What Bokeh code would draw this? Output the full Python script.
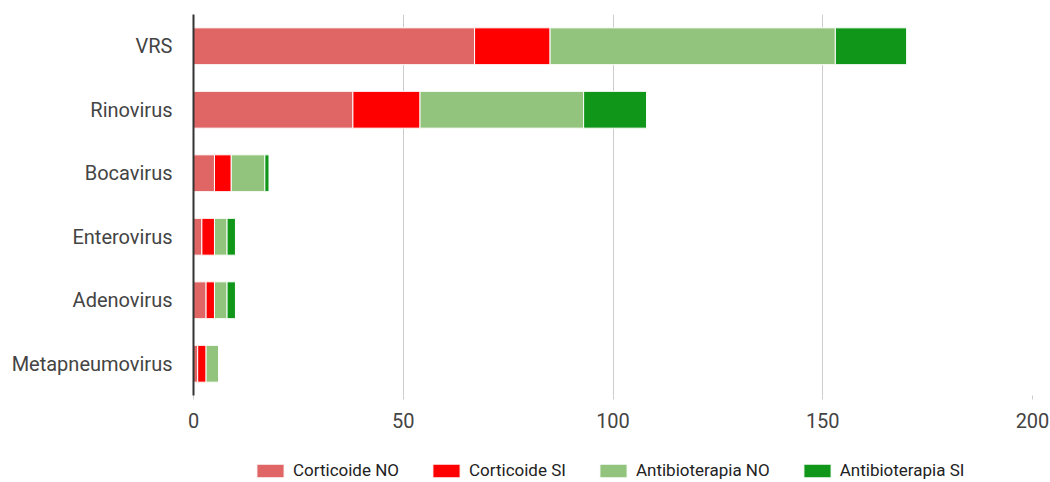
from bokeh.plotting import figure
from bokeh.layouts import column
from bokeh.models import ColumnDataSource, FactorRange, Range1d, Legend, LegendItem
from bokeh.embed import file_html
from bokeh.resources import INLINE

viruses = ["VRS", "Rinovirus", "Bocavirus", "Enterovirus", "Adenovirus", "Metapneumovirus"]
corticoide_no = [67, 38, 5, 2, 3, 1]
corticoide_si = [18, 16, 4, 3, 2, 2]
antibio_no = [68, 39, 8, 3, 3, 3]
antibio_si = [17, 15, 1, 2, 2, 0]

series_keys = ["corticoide_no", "corticoide_si", "antibio_no", "antibio_si"]
series_labels = ["Corticoide NO", "Corticoide SI", "Antibioterapia NO", "Antibioterapia SI"]
series_colors = ["#e06666", "#ff0000", "#93c47d", "#109618"]
x_ticks = [0, 50, 100, 150, 200]

source = ColumnDataSource(data=dict(
    virus=viruses,
    corticoide_no=corticoide_no,
    corticoide_si=corticoide_si,
    antibio_no=antibio_no,
    antibio_si=antibio_si,
))

FONT = "Roboto"

p = figure(
    width=1050, height=444,
    y_range=FactorRange(factors=list(reversed(viruses))),
    x_range=Range1d(0, 200),
    output_backend="svg", toolbar_location=None,
    min_border_left=193, min_border_right=18, min_border_top=14, min_border_bottom=49,
)
p.outline_line_color = None

p.hbar_stack(series_keys, y="virus", height=0.58, color=series_colors,
             line_color="white", line_width=1, source=source)

p.xaxis.ticker = x_ticks
p.xaxis.axis_line_color = None
p.xaxis.major_tick_line_color = "#cccccc"
p.xaxis.major_tick_out = 4
p.xaxis.major_tick_in = 0
p.xaxis.minor_tick_line_color = None
p.xaxis.major_label_standoff = 13
p.xaxis.major_label_text_font = FONT
p.xaxis.major_label_text_font_size = "20px"
p.xaxis.major_label_text_color = "#444444"

p.yaxis.axis_line_color = "#333333"
p.yaxis.axis_line_width = 2
p.yaxis.major_tick_line_color = None
p.yaxis.minor_tick_line_color = None
p.yaxis.major_label_standoff = 15
p.yaxis.major_label_text_font = FONT
p.yaxis.major_label_text_font_size = "20px"
p.yaxis.major_label_text_color = "#444444"

p.xgrid.grid_line_color = "#cccccc"
p.ygrid.grid_line_color = None

# Legend strip below the chart (proxy glyphs sit outside the visible range)
lg = figure(
    width=1050, height=38, x_range=Range1d(0, 1), y_range=Range1d(0, 1),
    output_backend="svg", toolbar_location=None,
    min_border_left=0, min_border_right=0, min_border_top=0, min_border_bottom=0,
)
lg.axis.visible = False
lg.grid.grid_line_color = None
lg.outline_line_color = None
proxies = [lg.hbar(y=[-5], right=[-5], height=1, color=c, line_color="white", line_width=1)
           for c in series_colors]
legend = Legend(
    items=[LegendItem(label=l, renderers=[r]) for l, r in zip(series_labels, proxies)],
    orientation="horizontal", location=(60, 2),
    glyph_width=34, glyph_height=17, label_standoff=6, spacing=30,
    label_text_font=FONT, label_text_font_size="17px", label_text_color="#222222",
    border_line_color=None, background_fill_alpha=0, padding=0, margin=0,
)
lg.add_layout(legend, "center")

layout = column(p, lg, spacing=0)
open("out.html", "w").write(file_html(layout, INLINE))
